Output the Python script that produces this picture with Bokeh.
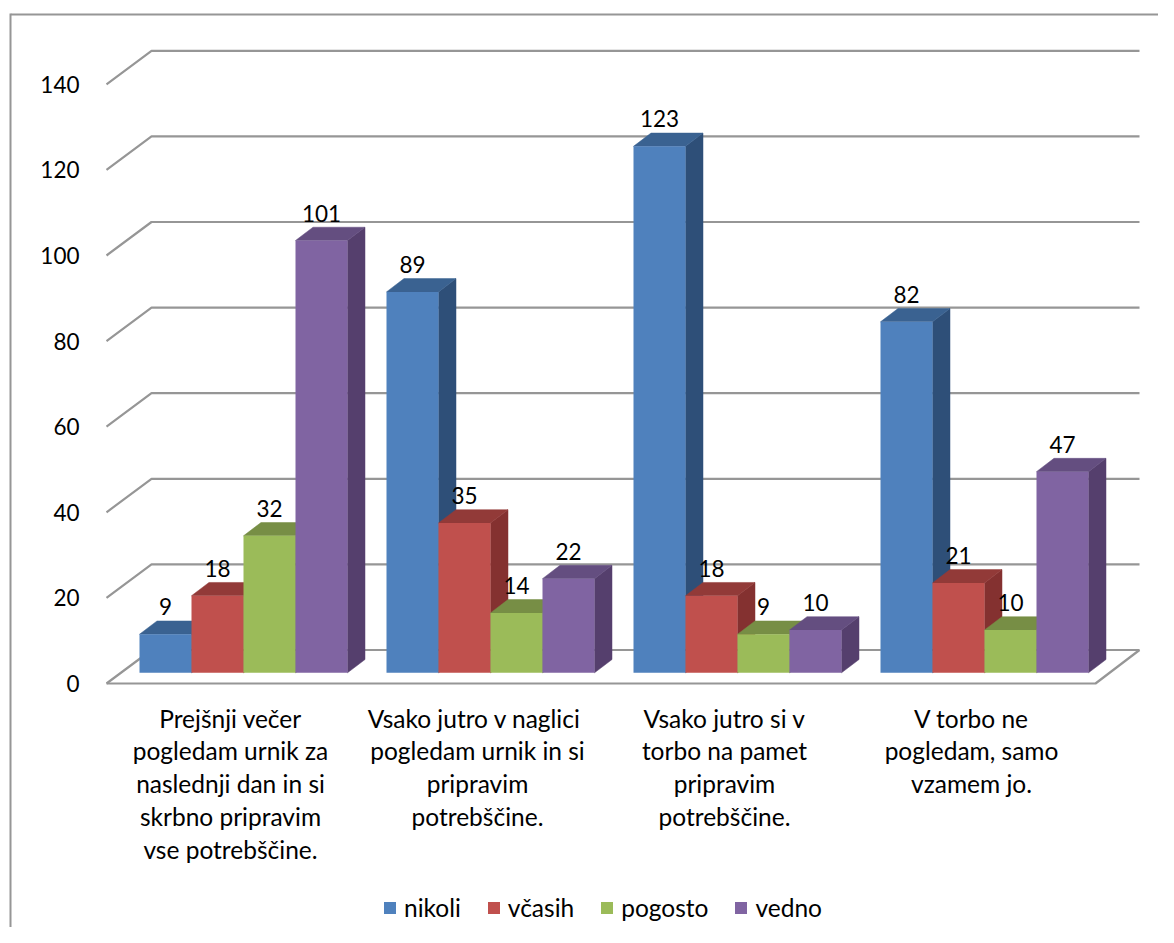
from bokeh.plotting import figure
from bokeh.embed import file_html
from bokeh.resources import INLINE
from bokeh.models import Range1d, LinearAxis, Legend, LegendItem, FixedTicker
from bokeh.core.properties import value

categories = [
    "Prejšnji večer\npogledam urnik za\nnaslednji dan in si\nskrbno pripravim\nvse potrebščine.",
    "Vsako jutro  v naglici\npogledam urnik in si\npripravim\npotrebščine.",
    "Vsako jutro si v\ntorbo na pamet\npripravim\npotrebščine.",
    "V torbo ne\npogledam, samo\nvzamem jo.",
]
series_names = ["nikoli", "včasih", "pogosto", "vedno"]
nikoli = [9, 89, 123, 82]
vcasih = [18, 35, 18, 21]
pogosto = [32, 14, 9, 10]
vedno = [101, 22, 10, 47]
y_ticks = [0, 20, 40, 60, 80, 100, 120, 140]

front = ["#4F81BD", "#C0504D", "#9BBB59", "#8064A2"]
tops = ["#3A6291", "#923A38", "#778E45", "#644E80"]
sides = ["#2E4F78", "#843130", "#657A3A", "#553F6D"]
GRID = "#969696"
FONT = "Lato"
FS = "24.5px"
NUM_FS = "22.5px"

PX = 4.28            # pixels per value unit
BASE = 672.3         # picture y of the value 0 at the bars' front
W, H = 1158, 927
LEFT, TOP = 10, 13   # picture position of the frame


def py(pic_y):
    return (BASE - pic_y) / PX


p = figure(width=W, height=H, output_backend="svg", toolbar_location=None,
           x_range=Range1d(LEFT, W), y_range=Range1d(py(H), py(TOP)),
           min_border_left=LEFT, min_border_right=0, min_border_top=TOP, min_border_bottom=0,
           x_axis_location=None, y_axis_location=None)
p.outline_line_color = None
p.xgrid.visible = False
p.ygrid.visible = False
p.background_fill_color = "white"
p.border_fill_color = "white"

# value scale of the front wall, where the tick labels sit
p.extra_y_ranges = {"wall": Range1d((683 - H) / PX, (683 - TOP) / PX)}
axis = LinearAxis(y_range_name="wall", ticker=FixedTicker(ticks=y_ticks),
                  major_tick_line_color=None, minor_tick_line_color=None,
                  axis_line_color=GRID, axis_line_width=2,
                  major_label_standoff=-75,
                  major_label_text_font=FONT, major_label_text_font_size=NUM_FS,
                  major_label_text_color="black")
p.add_layout(axis, "left")

# border top
p.segment([LEFT], [py(TOP)], [W], [py(TOP)], line_color=GRID, line_width=4)

# 3-D walls
back_off = py(649.5)
front_off = py(683)
xl_front, xl_back, xr_front, xr_back = 106, 151, 1095, 1139
for t in y_ticks:
    p.line([xl_front, xl_back, xr_back], [front_off + t, back_off + t, back_off + t],
           line_color=GRID, line_width=2.2)
p.line([xl_front, xr_front, xr_back], [front_off, front_off, back_off],
       line_color=GRID, line_width=2.2)

# bars
DX, DY = 17.5, 13.3 / PX
BW = 52
GROUP_X = [139, 386, 633, 880]
all_vals = [nikoli, vcasih, pogosto, vedno]
legend_items = []
for s, vals in enumerate(all_vals):
    lefts = [g + s * BW for g in GROUP_X]
    top_x = [[x, x + DX, x + BW + DX, x + BW] for x in lefts]
    top_y = [[v, v + DY, v + DY, v] for v in vals]
    side_x = [[x + BW, x + BW + DX, x + BW + DX, x + BW] for x in lefts]
    side_y = [[0, DY, v + DY, v] for v in vals]
    p.patches(side_x, side_y, fill_color=sides[s], line_color=sides[s], line_width=0.5)
    p.patches(top_x, top_y, fill_color=tops[s], line_color=tops[s], line_width=0.5)
    bars = p.vbar(x=[x + BW / 2 for x in lefts], top=vals, bottom=0, width=BW,
                  fill_color=front[s], line_color=None)
    legend_items.append(LegendItem(label=series_names[s], renderers=[bars]))

# data labels
for s, vals in enumerate(all_vals):
    p.text([g + s * BW + BW / 2 for g in GROUP_X], [v + 6.4 for v in vals],
           text=[str(v) for v in vals], text_font=value(FONT), text_font_size=NUM_FS,
           text_align="center", text_baseline="middle", text_color="black")

# category labels
CAT_X = [230, 477, 724, 971]
p.text(CAT_X, [py(703)] * 4, text=categories, text_font=value(FONT), text_font_size=FS,
       text_align="center", text_baseline="top", text_color="black", text_line_height=1.134)

legend = Legend(items=legend_items, orientation="horizontal", location=(372, 5),
                glyph_width=15, glyph_height=15, label_standoff=7, spacing=25,
                border_line_color=None, background_fill_alpha=0,
                label_text_font=FONT, label_text_font_size=FS, label_text_color="black",
                padding=0, margin=0)
p.add_layout(legend, "center")

open("out.html", "w").write(file_html(p, INLINE))
